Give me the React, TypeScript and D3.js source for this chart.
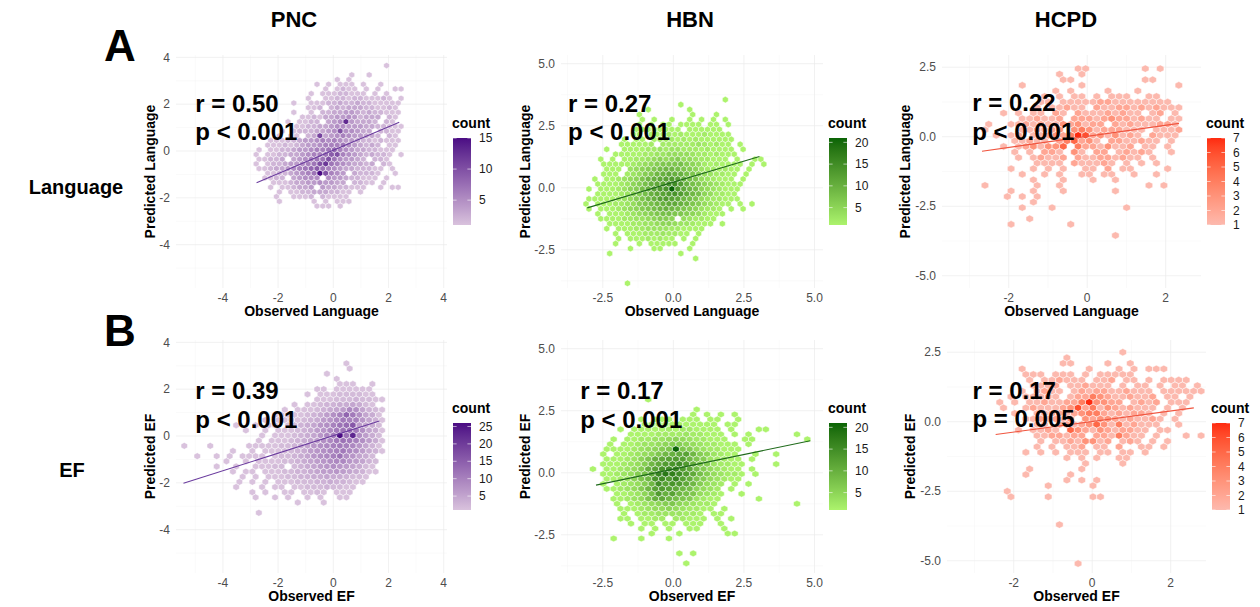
import { useEffect, useRef } from "react";
import * as d3 from "d3";

const FONT = "'Liberation Sans', Arial, Helvetica, sans-serif";

const cohorts = ["PNC", "HBN", "HCPD"];
const measures = ["Language", "EF"];
const panelLetters = ["A", "B"];

const rValues = ["0.50", "0.27", "0.22", "0.39", "0.17", "0.17"];
const pValues = ["p < 0.001", "p < 0.001", "p < 0.001", "p < 0.001", "p < 0.001", "p = 0.005"];

// fitted line end points [x1, y1, x2, y2]
const fitLines = [
  [-2.78, -1.36, 2.39, 1.23],
  [-3.05, -0.81, 3.05, 1.26],
  [-2.68, -0.52, 2.34, 0.48],
  [-5.43, -2.02, 1.67, 0.64],
  [-2.74, -0.5, 4.85, 1.29],
  [-2.46, -0.46, 2.59, 0.5],
];

const pncTicks = [-4, -2, 0, 2, 4];
const hbnTicks = [-2.5, 0, 2.5, 5];
const hcpdXTicks = [-2, 0, 2];
const hcpdYTicks = [-5, -2.5, 0, 2.5];

const countMax = [15, 21, 7, 26, 21, 7];
const legendTicks = [
  [5, 10, 15],
  [5, 10, 15, 20],
  [1, 2, 3, 4, 5, 6, 7],
  [5, 10, 15, 20, 25],
  [5, 10, 15, 20],
  [1, 2, 3, 4, 5, 6, 7],
];

// hex counts, one string per hex row (top row first); "." = empty,
// 1-9 then a=10, b=11 ... ; odd rows are shifted half a cell right
const pncLanguageHex = [
  "..... ..... ..... ..... ...1. .",
  "..... ..... ..... ..... ..... .",
  "..... ..... ..... ..1.. 1.... .",
  "..... ..... ....1 .1... ..... .",
  "..... ..... .1.1. 111.1 ..1.. .",
  "..... ..... ..1.1 211.1 .1..1 1",
  "..... ..... 1.111 22111 .1.1. .",
  "..... ....1 ..112 21221 1121. 1",
  "..... ..1.. 11122 32232 21111 1",
  "..... ....1 12.23 23332 21121 .",
  "..... ..1.. 1.223 34432 32211 1",
  "..... ...11 21334 45423 33.21 .",
  "..... .1.11 22.34 5d433 32.21 .",
  "..... ..112 23345 54443 32211 1",
  "..... 1.122 23345 a5543 3.221 1",
  "....1 .11.2 3b345 65443 32.21 .",
  "...11 12234 45656 54432 21211 1",
  "..111 21234 45666 75432 32.11 .",
  ".1.11 22344 56678 65433 22111 .",
  "1.112 23345 6679a 65432 3221. 1",
  ".1122 3.345 677a7 54432 .221. .",
  "1.122 34456 7ac76 54332 3.21. .",
  ".1123 34567 89765 43322 211.1 .",
  "..112 23456 7fa65 4.322 21..1 .",
  "..112 2.345 55.54 43221 11.1. .",
  "...11 12334 45443 3.221 1.1.. .",
  "...1. 11233 4.433 22111 ..1.1 1",
  "....1 .1122 33322 11.1. ..... .",
  "....1 ..111 2.211 11... ..... .",
  "....1 ..... 1.1.1 11... ..... .",
  "..... ..... .111. 1.... ..... .",
];

const hbnLanguageHex = [
  "..... ..... ..... ..... ....1 ..... .",
  "..... ..... ..... .1... ..... ..... .",
  "..... ..... .1... ...1. ..... ..... .",
  "..... ....1 ..... ...1. ..1.. ..... .",
  "..... ..... 1.1.. 1..1. 1.1.1 ..... .",
  "..... ....1 .1.11 .1111 .11.1 ..... .",
  "..... ....1 11111 11.11 1111. ..... .",
  "..... ...11 .1112 12111 21111 ..... .",
  "..... ..1.1 1.122 21212 11111 1.... .",
  "..... .1111 12.22 22223 21211 .1... .",
  "....1 ..111 12232 33222 12111 1.1.. .",
  "..... 11111 22334 44432 21211 1.... .",
  "...1. 1.112 23454 56443 22111 .1..1 1",
  "...11 11123 45677 78654 21211 11.1. 1",
  "....1 11.34 56789 98765 32212 11.1. .",
  "...11 1.234 679ab aa876 43221 1.1.. .",
  "..1.1 12345 79abc dca87 43211 1.1.. .",
  "..111 12356 8abce fda87 54321 11... .",
  ".1.11 12356 8acde ldb98 54321 11... .",
  "..111 12356 8abcd edb98 54221 1.... .",
  ".1111 12346 79acd cb987 43221 11... .",
  "1.111 22346 789ab ba976 43211 .1.1. .",
  ".1.11 12345 6789a 98765 3221. 1.1.. .",
  "..1.1 11234 56788 77654 2111. ..... .",
  "...11 11223 34566 5.432 211.. ..... .",
  "....1 11122 33455 43321 11.1. ..... .",
  "....1 .1112 23333 22111 1.... ..... .",
  "..... 1.111 22232 211.1 ..... ..... .",
  "..... .1.11 12121 1.1.1 ..... ..... .",
  "..... 1...1 .1111 1..1. ..... ..... .",
  "..... ...1. ..11. ...1. ..... ..... .",
  "....1 ..... ..... .1... ..... ..... .",
  "..... ..... ..... ....1 ..... ..... .",
  "..... ..... ..... ..... ..... ..... .",
  "..... ..... ..... ..... ..... ..... .",
  "..... ..... ..... ..... ..... ..... .",
  "..... ..... ..... ..... ..... ..... .",
  "..... ..1.. ..... ..... ..... ..... .",
];

const hcpdLanguageHex = [
  "..... ..... ...11 ..... ..1.1 ...",
  "..... ..... 1..1. ..... ..... ...",
  "..... ..... .11.. ..... ..11. ...",
  "..... 1.... ...1. ..... ..... .1.",
  "..... ..... 1.1.. ..1.. .1... ...",
  "..... ...1. 1.11. 1.111 ..11. ...",
  "..... ...11 .1111 12211 11111 1..",
  "..... ..1.1 1211. 21122 12121 11.",
  "...1. 1.11. 21.21 11212 11.12 .1.",
  "..... 11211 2.222 12322 1211. 11.",
  ".1..1 12121 13231 22.21 21112 21.",
  "1.... 11212 3.343 12221 11.11 12.",
  "..1.1 2.112 32476 23131 21.21 11.",
  "....1 1211. 24523 1.221 1211. 1..",
  "...1. 12313 35.42 21311 2.11. 1..",
  "....1 .1.22 1.31. 22.12 121.. 1..",
  "..... 1.121 12.21 12212 11.1. ...",
  "..... ..111 1.211 121.1 .1.1. ...",
  "....1 ..1.1 .1..1 1.2.1 1.... 1..",
  "..... 1..1. 1..11 .11.. 1..1. ...",
  "..... ..1.. .1... 1..1. ..... ...",
  "1.... ..1.. 1.... ..... ..1.1 ...",
  "....1 ..1.. .1... ...1. ..... ...",
  "...1. 1.1.. ..... ..... ..... ...",
  "..... ..1.. ..... ..... ..... ...",
  "..... 1...1 ..... ....1 ..... ...",
  "..... ..... ..... ..... ..... ...",
  "..... .1... ..... ..... ..... ...",
  "....1 ..... ..1.. ..... ..... ...",
  "..... ..... ..... ..... ..... ...",
  "..... ..... ..... ...1. ..... ...",
];

const pncEfHex = [
  "..... ..... ..... ..... ..... 1.... .",
  "..... ..... ..... ..... ..... 1.... .",
  "..... ..... ..... ..... ..1.. ..... .",
  "..... ..... ..... ..... ...1. ..... .",
  "..... ..... ..... ..... ....1 11..1 .",
  "..... ..... ..... ..... 11.11 1111. .",
  "..... ..... ..... ....1 .1112 22211 .",
  "..... ..... ..... ..... 11122 23221 1",
  "..... ..... ..... ..1.1 12334 45421 .",
  "..... ..... ..... 1.111 23456 98532 1",
  "..... ..... ....1 11112 3468a eb854 1",
  "..... ..... ..1.1 11123 4679b aa753 1",
  "..... ...1. .1.11 .1234 578ac dg654 2",
  "..... ....1 ..1.1 11234 679bc cb854 1",
  "..... ..... ..1.1 11234 579bq cn864 2",
  "..... ..... .1.11 12345 689bc ba864 1",
  "1...1 ..... 11111 22345 789ab a9753 1",
  "..... ..1.. 1.111 22346 789ab 98643 1",
  "..1.. 1.1.1 111.1 22345 789ac 87542 .",
  "..... .1..1 .1111 22345 67899 76532 .",
  "..... 1..1. .1112 2.234 56787 65421 .",
  "..... ..1.1 1.111 22334 56676 54311 .",
  "..... ....1 .1.11 12233 44544 3221. .",
  "..... ...1. 1.1.1 11222 33433 211.. .",
  "..... ...1. ..1.1 1.112 22322 11... .",
  "..... ..... 1.1.. 11.11 21.11 1.... .",
  "..... ..... .1..1 .1..1 .1..1 1.... .",
  "..... ..... ..... ..1.. .1... ..... .",
  "..... ..... ..... ..... ..... ..... .",
  "..... ..... .1... ..... ..... ..... .",
];

const hbnEfHex = [
  "..... ...1. ..... ..... ..... ..... ...",
  "..... ..... ..... ..... ..... ..... ...",
  "..... ..... ..... 1.... ..... ..... ...",
  "..... ..... ....1 .1.1. 1.... ..... ...",
  "..... ..1.1 11.11 1.11. .1... ..... ...",
  "..... ..111 11111 111.1 1.... ..... ...",
  "....1 .1111 12122 1111. 1...1 1.... ...",
  "..... 11112 22232 2111. 1.1.. ....1 ...",
  "...1. 11223 34543 22111 ..11. ..... .1.",
  "..1.1 12334 56654 32211 1.1.. ..... ...",
  "..111 12345 67l76 43221 11... ..... ...",
  ".1.11 23457 9abc9 65321 1..1. .1... ...",
  "..111 2357a bcdc9 76322 11.1. ..... ...",
  ".1112 3469b defda 76322 11... .1... ...",
  "1.112 346ac efgdb 86432 11.1. ..... ...",
  ".1123 468bg ihfdb 86432 21.1. ..... ...",
  "..112 3579e fdgca 76432 11... ..... ...",
  ".1.12 3469f cedb9 6432. 1.1.. ..... ...",
  "..112 3469c dcb98 5432. 1.... ..... ...",
  "...11 2358d ac987 4321. .1... ..... ...",
  "...11 2347a b9876 3211. ....1 ..... ...",
  "...1. 12345 67543 221.. ..... ....1 ...",
  "....1 11234 45432 211.1 ..... ..... ...",
  "....1 .1223 33322 1.11. ..... ..... ...",
  "....1 1.112 2.221 11.1. 1.... ..... ...",
  "..... 1.11. 11.11 1..1. ..... ..... ...",
  "..... ..1.1 .1..1 1...1 ..... ..... ...",
  "..... ...1. ..1.. ....1 1.... ..... ...",
  "...1. ..1.. .1... ..... ..... ..... ...",
  "..... ..... ..... ..... ..... ..... ...",
  "..... ..... ..... ..... ..... ..... ...",
  "..... ..... ..1.1 ..... ..... ..... ...",
  "..... ..... ..... ..... ..... ..... ...",
  "..... ..... ...1. ..... ..... ..... ...",
];

const hcpdEfHex = [
  "..... ..... ..... ..1.. ..... ...",
  "..... ....1 ..... ..... ..... ...",
  "..... ....1 1.... 1..1. ..... ...",
  "...1. ..... ..1.. .1.1. 111.. ...",
  "....1 11.11 1.1.1 1111. ..... ...",
  "....1 .1121 11.11 2.11. 1.111 1..",
  "..... 1112. 11211 1.1.1 1.1.1 1.1",
  "...1. 1211. 12122 11211 1.111 111",
  "..1.1 1121. 12243 21121 12.11 .1.",
  "1.1.1 12112 24733 22.12 12.11 1..",
  ".1..1 21112 36241 32121 11.1. 1..",
  "..1.. 11221 23442 12122 1.1.1 ...",
  "....1 12121 3.323 32121 121.1 ...",
  "..... 11.22 12353 14121 11..1 ...",
  "...1. 1121. 53213 21221 1.11. ...",
  "..... 11221 22.22 14211 .1... 1.1",
  "..... .1.11 21331 2.121 .1.1. ...",
  "..... 1.1.1 12.11 .2..1 1.1.. ...",
  "....1 .1.1. 111.1 1.11. 1.... ...",
  "..... ....1 .1.1. .11.. ..... ...",
  "..... ..... ..1.. ..1.. ..... ...",
  "....1 ..... .1... ..... ..... ...",
  "....1 ..... 1.... ..... ..... ...",
  "..... ....1 .1.1. ..... ..... ...",
  "..... ..1.. ...1. ..... ..... ...",
  ".1... ..... ..... ..... ..... ...",
  "..1.. ..1.. ...11 ..... ..... ...",
  "..... ..... ..... ..... ..... ...",
  "..... ..... ..... ..... ..... ...",
  "..... ..... ..... ..... ..... ...",
  "..... ..... ..... ..... ..... ...",
  "..... ...1. ..... ..... ..... ...",
  "..... ..... ..... ..... ..... ...",
  "..... ..... ..... ..... ..... ...",
  "..... ..... ..... ..... ..... ...",
  "..... ..... ..... ..... ..... ...",
  "..... ..... ..... ..... ..... ...",
  "..... ..... ..... ..... ..... ...",
  "..... ..... .1... ..... ..... ...",
];

const hexData = [pncLanguageHex, hbnLanguageHex, hcpdLanguageHex, pncEfHex, hbnEfHex, hcpdEfHex];

// per cohort scale settings
const cohortStyle = [
  { xDomain: [-5.7, 4.12], yDomain: [-5.85, 4.1], xTicks: pncTicks, yTicks: pncTicks, xDigits: 0, yDigits: 0,
    palette: ["#d9c2dd", "#4b0c84"], line: "#6a3b9e", titleGap: 26 },
  { xDomain: [-3.98, 5.3], yDomain: [-4.04, 5.35], xTicks: hbnTicks, yTicks: hbnTicks, xDigits: 1, yDigits: 1,
    palette: ["#acf36c", "#0a6405"], line: "#1f6a1a", titleGap: 36 },
  { xDomain: [-3.7, 2.9], yDomain: [-5.44, 2.94], xTicks: hcpdXTicks, yTicks: hcpdYTicks, xDigits: 0, yDigits: 1,
    palette: ["#fcb9ae", "#fe2b10"], line: "#f0553f", titleGap: 37 },
];

// per panel geometry
const panelGeom = [
  { xRange: [176, 447], hex: { x0: -2.9, bx: 0.21, y0: 3.65, by: 0.2 }, label: [-5, 1.68] },
  { xRange: [561, 823], hex: { x0: -3.2, bx: 0.21, y0: 3.55, by: 0.2 }, label: [-3.73, 3.07] },
  { xRange: [942, 1201], hex: { x0: -2.7, bx: 0.19, y0: 2.45, by: 0.2 }, label: [-2.93, 0.91] },
  { xRange: [176, 447], hex: { x0: -5.4, bx: 0.235, y0: 3.1, by: 0.22 }, label: [-5, 1.58] },
  { xRange: [561, 823], hex: { x0: -2.85, bx: 0.245, y0: 2.95, by: 0.2 }, label: [-3.3, 2.97] },
  { xRange: [947, 1206], hex: { x0: -2.45, bx: 0.19, y0: 2.5, by: 0.2 }, label: [-3.05, 0.82] },
];
const rowRanges = [[288, 55], [573, 340]];

const countOf = (ch) => (ch >= "1" && ch <= "9" ? +ch : ch.charCodeAt(0) - 87);

const minorOf = (ticks, domain) => {
  const step = ticks[1] - ticks[0];
  return d3
    .range(ticks[0] - step / 2, ticks[ticks.length - 1] + step, step)
    .filter((v) => v > domain[0] && v < domain[1]);
};

const App = () => {
  const svgRef = useRef(null);

  useEffect(() => {
    document.body.style.margin = "0";
    const svg = d3.select(svgRef.current);
    svg.selectAll("*").remove();
    svg.append("rect").attr("width", 1260).attr("height", 607).attr("fill", "#fff");

    const defs = svg.append("defs");

    // headers
    const cohortCenters = [294, 690, 1066];
    svg.append("g").selectAll("text").data(cohorts).join("text")
      .attr("x", (d, i) => cohortCenters[i]).attr("y", 27)
      .attr("text-anchor", "middle").attr("font-size", 22).attr("font-weight", "bold")
      .text((d) => d);

    svg.append("g").selectAll("text").data(panelLetters).join("text")
      .attr("x", 120).attr("y", (d, i) => [61, 346][i])
      .attr("text-anchor", "middle").attr("font-size", 44).attr("font-weight", "bold")
      .text((d) => d);

    svg.append("g").selectAll("text").data(measures).join("text")
      .attr("x", (d, i) => [76, 72][i]).attr("y", (d, i) => [194, 477][i])
      .attr("text-anchor", "middle").attr("font-size", 20).attr("font-weight", "bold")
      .text((d) => d);

    hexData.forEach((rows, k) => {
      const ci = k % 3;
      const ri = Math.floor(k / 3);
      const cs = cohortStyle[ci];
      const pg = panelGeom[k];
      const x = d3.scaleLinear().domain(cs.xDomain).range(pg.xRange);
      const y = d3.scaleLinear().domain(cs.yDomain).range(rowRanges[ri]);
      const [left, right] = pg.xRange;
      const [bottom, top] = rowRanges[ri];
      const g = svg.append("g");

      // grid
      const grid = g.append("g").attr("fill", "none");
      minorOf(cs.xTicks, cs.xDomain).forEach((v) =>
        grid.append("line").attr("x1", x(v)).attr("x2", x(v)).attr("y1", top).attr("y2", bottom)
          .attr("stroke", "#f5f5f5").attr("stroke-width", 0.5));
      minorOf(cs.yTicks, cs.yDomain).forEach((v) =>
        grid.append("line").attr("x1", left).attr("x2", right).attr("y1", y(v)).attr("y2", y(v))
          .attr("stroke", "#f5f5f5").attr("stroke-width", 0.5));
      cs.xTicks.forEach((v) =>
        grid.append("line").attr("x1", x(v)).attr("x2", x(v)).attr("y1", top).attr("y2", bottom)
          .attr("stroke", "#ebebeb").attr("stroke-width", 0.7));
      cs.yTicks.forEach((v) =>
        grid.append("line").attr("x1", left).attr("x2", right).attr("y1", y(v)).attr("y2", y(v))
          .attr("stroke", "#ebebeb").attr("stroke-width", 0.7));

      // hexes
      const { x0, bx, y0, by } = pg.hex;
      const rx = (x(bx) - x(0)) / 2;
      const ry = (y(0) - y(by)) / 1.5;
      const hexPath = `M0,${-ry}L${rx},${-ry / 2}L${rx},${ry / 2}L0,${ry}L${-rx},${ry / 2}L${-rx},${-ry / 2}Z`;
      const cells = [];
      rows.forEach((row, i) => {
        row.replace(/ /g, "").split("").forEach((ch, j) => {
          if (ch === ".") return;
          cells.push({ cx: x0 + j * bx + (i % 2 ? bx / 2 : 0), cy: y0 - i * by, n: countOf(ch) });
        });
      });
      const color = d3.scaleLinear().domain([1, countMax[k]]).range(cs.palette).interpolate(d3.interpolateLab);
      g.append("g").selectAll("path").data(cells).join("path")
        .attr("d", hexPath)
        .attr("transform", (d) => `translate(${x(d.cx)},${y(d.cy)})`)
        .attr("fill", (d) => color(d.n))
        .attr("stroke", "#fff").attr("stroke-width", 0.5);

      // fit line
      const f = fitLines[k];
      g.append("path")
        .attr("d", d3.line().x((d) => x(d[0])).y((d) => y(d[1]))([[f[0], f[1]], [f[2], f[3]]]))
        .attr("stroke", cs.line).attr("stroke-width", 1.1).attr("fill", "none");

      // stats
      const lx = x(pg.label[0]);
      const ly = y(pg.label[1]);
      g.append("text").attr("x", lx).attr("y", ly).attr("font-size", 24).attr("font-weight", "bold")
        .text(`r = ${rValues[k]}`);
      g.append("text").attr("x", lx).attr("y", ly + 28.5).attr("font-size", 24).attr("font-weight", "bold")
        .text(pValues[k]);

      // axes text
      g.append("g").selectAll("text").data(cs.xTicks).join("text")
        .attr("x", (d) => x(d)).attr("y", bottom + 13.5).attr("text-anchor", "middle")
        .attr("font-size", 12).attr("fill", "#4d4d4d").text((d) => d.toFixed(cs.xDigits));
      g.append("g").selectAll("text").data(cs.yTicks).join("text")
        .attr("x", left - 6).attr("y", (d) => y(d)).attr("dy", "0.35em").attr("text-anchor", "end")
        .attr("font-size", 12).attr("fill", "#4d4d4d").text((d) => d.toFixed(cs.yDigits));
      g.append("text").attr("x", (left + right) / 2).attr("y", bottom + 27.5).attr("text-anchor", "middle")
        .attr("font-size", 14).attr("font-weight", "bold").text(`Observed ${measures[ri]}`);
      g.append("text").attr("transform", `translate(${left - cs.titleGap},${(top + bottom) / 2}) rotate(-90)`)
        .attr("dy", "0.35em").attr("text-anchor", "middle")
        .attr("font-size", 14).attr("font-weight", "bold").text(`Predicted ${measures[ri]}`);

      // legend
      const lgX = right + 6;
      const barTop = top + 83;
      const barH = 87;
      const barW = 18;
      const ls = d3.scaleLinear().domain([1, countMax[k]]).range([barTop + barH, barTop]);
      const gid = `grad${k}`;
      const grad = defs.append("linearGradient").attr("id", gid)
        .attr("x1", 0).attr("y1", 1).attr("x2", 0).attr("y2", 0);
      d3.range(0, 1.0001, 0.1).forEach((t) =>
        grad.append("stop").attr("offset", t).attr("stop-color", color(1 + t * (countMax[k] - 1))));
      const lg = g.append("g");
      lg.append("text").attr("x", lgX - 1).attr("y", barTop - 10).attr("font-size", 14)
        .attr("font-weight", "bold").text("count");
      lg.append("rect").attr("x", lgX).attr("y", barTop).attr("width", barW).attr("height", barH)
        .attr("fill", `url(#${gid})`);
      legendTicks[k].forEach((v) => {
        lg.append("line").attr("x1", lgX).attr("x2", lgX + 3.6).attr("y1", ls(v)).attr("y2", ls(v))
          .attr("stroke", "#fff").attr("stroke-width", 0.6);
        lg.append("line").attr("x1", lgX + barW - 3.6).attr("x2", lgX + barW).attr("y1", ls(v)).attr("y2", ls(v))
          .attr("stroke", "#fff").attr("stroke-width", 0.6);
        lg.append("text").attr("x", lgX + barW + 8).attr("y", ls(v)).attr("dy", "0.35em")
          .attr("font-size", 12).attr("fill", "#1a1a1a").text(v);
      });
    });
  }, []);

  return (
    <svg
      ref={svgRef}
      width={1260}
      height={607}
      style={{ display: "block", fontFamily: FONT }}
    />
  );
};

export default App;
